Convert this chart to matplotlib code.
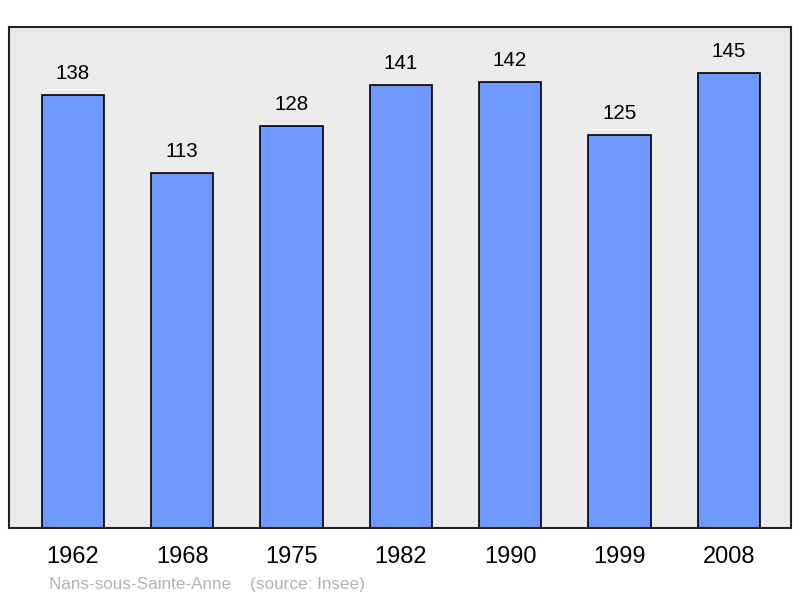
import matplotlib.pyplot as plt

plt.rcParams['font.family'] = ['Liberation Sans', 'DejaVu Sans']

years = ['1962', '1968', '1975', '1982', '1990', '1999', '2008']
population = [138, 113, 128, 141, 142, 125, 145]

fig = plt.figure(figsize=(8, 5.98), dpi=100)
ax = fig.add_axes([9 / 800, 70 / 598, 782 / 800, 501 / 598])
ax.set_facecolor('#ebebeb')

x = range(len(years))
ax.bar(x, population, width=0.57, color='#7099ff', edgecolor='black', linewidth=1.2, zorder=2)

for xi, v in zip(x, population):
    ax.annotate(str(v), (xi, v), xytext=(0, 15.5), textcoords='offset points',
                ha='center', va='center', fontsize=14.8)

ax.set_xlim(-0.585, 6.57)
ax.set_ylim(0, 159.5)
ax.set_yticks([])
ax.set_xticks(list(x))
ax.set_xticklabels(years, fontsize=17)
ax.tick_params(axis='x', length=0, pad=13)
for s in ax.spines.values():
    s.set_linewidth(1.5)
    s.set_color('#222222')

fig.text(49 / 800, 1 - 584 / 598, 'Nans-sous-Sainte-Anne    (source: Insee)',
         fontsize=12.3, color='#b3b3b3', va='center', ha='left')

fig.savefig('out.png', dpi=100)
